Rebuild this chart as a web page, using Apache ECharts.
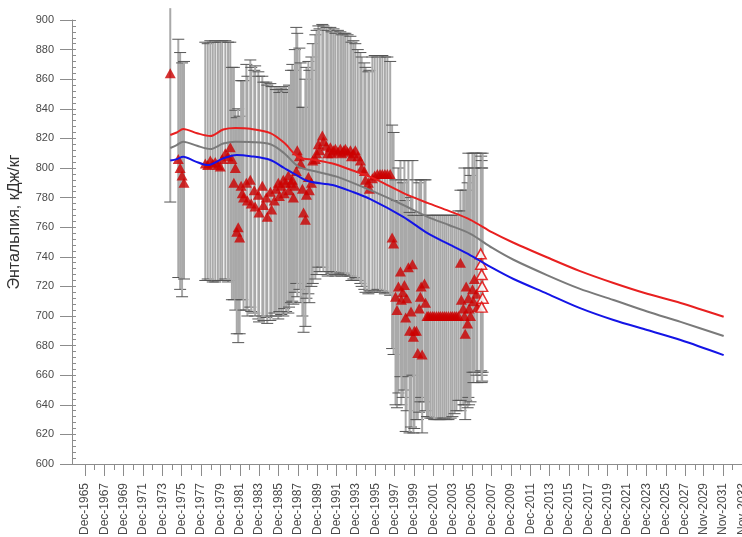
<!DOCTYPE html>
<html><head><meta charset="utf-8">
<script src="https://cdn.jsdelivr.net/npm/echarts@6/dist/echarts.min.js"></script>
<style>html,body{margin:0;padding:0;background:#fff}#c{width:742px;height:537px}</style>
</head><body><div id="c"></div>
<script>
// ---- tick labels ----
const tickLabels = ['Dec-1965','Dec-1967','Dec-1969','Dec-1971','Dec-1973','Dec-1975','Dec-1977','Dec-1979','Dec-1981','Dec-1983','Dec-1985','Dec-1987','Dec-1989','Dec-1991','Dec-1993','Dec-1995','Dec-1997','Dec-1999','Dec-2001','Dec-2003','Dec-2005','Dec-2007','Dec-2009','Dec-2011','Dec-2013','Dec-2015','Dec-2017','Dec-2019','Dec-2021','Dec-2023','Dec-2025','Dec-2027','Nov-2029','Nov-2031','Nov-2033'];

// ---- measured points (filled triangles) ----
const ptYear = [1974.73,
 1975.56,1975.75,1975.95,1976.15,
 1978.35,1978.6,1978.87,1979.12,1979.38,1979.65,1979.9,1980.1,1980.42,1980.7,1980.93,1981.1,1981.3,1981.45,1981.6,1981.75,1981.9,
 1982.05,1982.17,1982.3,1982.59,1982.7,1983.0,1983.1,1983.41,1983.5,1983.83,1983.9,1984.24,1984.35,1984.65,1984.75,1985.07,1985.2,1985.48,1985.65,1985.89,1986.0,1986.2,1986.41,1986.5,1986.7,1986.93,1987.0,1987.2,1987.34,1987.45,1987.6,
 1987.75,1987.85,1988.07,1988.2,1988.38,1988.5,1988.69,1988.8,1989.0,1989.1,1989.31,1989.45,1989.72,1989.85,1990.03,1990.15,1990.44,1990.55,1990.86,1991.0,1991.27,1991.4,1991.6,1991.79,1992.05,1992.3,1992.45,1992.65,1992.82,1993.05,1993.34,1993.45,1993.65,1993.85,1994.1,1994.37,1994.5,1994.78,1994.9,1995.2,1995.3,1995.61,1995.85,1996.13,1996.4,1996.64,1996.9,1997.16,1997.45,1997.65,1997.8,
 1998.0,1998.15,1998.3,1998.51,1998.6,1998.75,1998.92,1999.05,1999.15,1999.33,1999.45,1999.6,1999.75,1999.85,1999.95,2000.16,2000.3,2000.45,2000.57,2000.65,2000.75,2000.99,2001.1,2001.25,2001.4,2001.6,2001.81,2002.0,2002.23,2002.45,2002.64,2002.85,2003.05,2003.25,2003.47,2003.7,2003.88,2004.1,2004.29,2004.5,2004.71,2004.8,2005.0,2005.12,2005.2,2005.3,2005.45,2005.53,2005.6,2005.75,2005.95,2006.05,2006.15,2006.36,2006.45];
const ptValue = [864,
 806,800,795,790,
 803,802,805,803,804,802,801,806,810,808,814,806,790,800,757,760,753,
 788,783,780,790,778,792,776,785,774,782,770,788,775,780,767,784,772,778,786,790,781,788,792,783,790,795,785,790,792,780,788,
 798,812,808,803,786,770,765,782,794,785,790,805,806,810,816,812,822,818,815,810,814,810,812,813,811,813,810,812,813,811,812,808,810,812,808,805,800,798,792,790,786,793,795,796,796,796,796,796,796,753,749,
 713,704,720,730,711,716,721,699,712,733,690,703,735,686,690,690,675,705,713,720,674,722,709,700,700,700,700,700,700,700,700,700,700,700,700,700,700,700,700,700,736,711,705,700,688,720,695,712,705,700,718,710,725,715,706];
const ptHigh = [908,
 887,878,871,872,
 885,884,886,885,886,885,885,886,886,885,885,868,868,839,834,840,835,
 859,859,859,870,862,873,868,866,869,865,862,862,858,858,856,857,855,855,853,853,851,854,852,855,853,851,856,866,870,866,880,
 895,891,881,871,841,841,860,868,872,866,875,884,890,893,896,894,897,896,895,893,895,892,894,891,893,892,890,891,891,890,889,885,886,884,880,878,875,871,868,865,866,875,876,875,876,876,875,875,872,829,824,
 792,778,800,805,792,790,805,778,792,805,770,780,805,768,770,792,768,790,792,792,768,792,792,768,768,768,768,768,768,768,768,768,768,768,768,768,768,768,768,771,785,771,785,800,771,785,790,810,800,795,810,800,810,810,800];
const ptLow = [777,
 726,718,713,725,
 724,725,724,723,723,724,724,724,725,723,724,711,711,704,688,682,688,
 711,711,704,704,700,706,703,702,700,698,696,700,697,699,695,697,700,702,700,698,703,701,700,705,703,702,706,709,710,708,716,
 722,713,718,709,700,689,693,712,715,709,720,722,725,728,733,730,733,730,728,727,730,729,730,727,728,729,727,729,728,727,727,724,725,726,724,722,720,718,716,715,717,716,717,718,716,717,715,716,714,678,674,
 640,638,648,659,640,645,650,622,636,659,621,625,660,621,624,630,630,635,642,645,621,642,636,632,632,631,631,630,630,630,630,631,631,630,630,631,632,634,636,643,636,643,640,640,630,643,638,645,640,642,662,655,662,660,655];

// ---- hollow triangles ----
const hollowYear = [2006.8,2006.85,2006.9,2006.95,2007.0,2006.9];
const hollowValue = [742,735,728,720,712,706];
const hollowHigh = [810,808,805,800,810,800];
const hollowLow = [662,663,660,656,662,655];

// ---- model curves ----
const redYear = [1974.73,1975.4,1976.07,1977.5,1978.87,1980.2,1981.45,1983.0,1985.07,1986.5,1987.96,1989.72,1991.5,1993.5,1995.4,1997.0,1998.82,2001.3,2003.5,2005.74,2008.0,2010.19,2013.7,2017.0,2020.52,2024.0,2027.45,2031.9];
const redValue = [822.3,824,826.4,823.5,821.6,826,827,826.5,823.6,817,807.4,805.4,803,798.5,794,789,783,776.4,771,765,756.5,749.5,739.5,730.5,722.3,715,708.8,699.5];
const greyYear = [1974.73,1975.4,1976.07,1977.5,1978.87,1980.2,1981.45,1983.0,1985.07,1986.5,1987.96,1989.9,1992.0,1995.4,1998.8,2001.3,2003.5,2005.74,2008.0,2010.19,2013.7,2017.0,2020.52,2024.0,2027.45,2031.9];
const greyValue = [813.5,815.5,817.8,815,812.8,816.5,817.8,817.5,816,810,801,797.5,794,785,775,767,761.5,755.5,746,738,727.5,718.5,710.8,703,696,686.5];
const blueYear = [1974.73,1975.4,1976.07,1977.3,1978.6,1980.2,1981.6,1983.0,1985.07,1986.5,1987.4,1989.0,1991.5,1993.5,1995.4,1998.8,2001.3,2003.5,2005.74,2008.0,2010.19,2013.7,2017.0,2020.52,2024.0,2027.45,2031.9];
const blueValue = [805,806,807.6,804.5,802,806.5,808.8,808,805.4,800,796.6,791,788.5,784,779,767,756,748.5,741,732.5,725,715,705.5,697.3,690.5,683.8,673.6];

// ---- build ----
const monthIdx = {Jan:0,Feb:1,Mar:2,Apr:3,May:4,Jun:5,Jul:6,Aug:7,Sep:8,Oct:9,Nov:10,Dec:11};
const tickPos = tickLabels.map(s => { const [m, y] = s.split('-'); return +y + monthIdx[m] / 12; });
const minorPos = tickPos.map(v => v + 1);
const zip = (a, b) => a.map((v, i) => [v, b[i]]);
const bars = ptYear.map((y, i) => [y, ptLow[i], ptHigh[i]]).concat(hollowYear.map((y, i) => [y, hollowLow[i], hollowHigh[i]]));

const YMIN = 600, YMAX = 900;
const axisGrey = '#8c8c8c';
const labelStyle = { fontFamily: 'Liberation Sans, Arial, sans-serif', fontSize: 11, color: '#4a4a4a' };

const chart = echarts.init(document.getElementById('c'), null, { renderer: 'canvas' });
chart.setOption({
  animation: false,
  backgroundColor: '#fff',
  grid: { left: 72, top: 20, width: 672, height: 444, containLabel: false, outerBoundsMode: 'none' },
  xAxis: [{
    type: 'value', min: 1964.58, max: 2034.0,
    axisLine: { show: true, lineStyle: { color: axisGrey, width: 1 } },
    axisTick: { show: true, customValues: tickPos, length: 12, lineStyle: { color: axisGrey } },
    axisLabel: Object.assign({}, labelStyle, { fontSize: 12, customValues: tickPos, rotate: 90, margin: 19,
      formatter: v => { let bi = 0; tickPos.forEach((t, i) => { if (Math.abs(t - v) < Math.abs(tickPos[bi] - v)) bi = i; }); return tickLabels[bi]; } }),
    splitLine: { show: false }
  }, {
    type: 'value', min: 1964.58, max: 2034.0, position: 'bottom',
    axisLine: { show: false },
    axisTick: { show: true, customValues: minorPos, length: 6, lineStyle: { color: axisGrey } },
    axisLabel: { show: false }, splitLine: { show: false }
  }],
  yAxis: [{
    type: 'value', min: YMIN, max: YMAX, interval: 20,
    name: 'Энтальпия, кДж/кг', nameLocation: 'middle', nameGap: 49,
    nameTextStyle: { fontFamily: 'Liberation Sans, Arial, sans-serif', fontSize: 16, color: '#333', padding: [0, 0, 0, 40] },
    axisLine: { show: true, lineStyle: { color: axisGrey } },
    axisTick: { show: true, length: 12, lineStyle: { color: axisGrey } },
    axisLabel: Object.assign({ margin: 18 }, labelStyle),
    splitLine: { show: false }
  }, {
    type: 'value', min: YMIN, max: YMAX, interval: 4, position: 'left',
    axisLine: { show: false },
    axisTick: { show: true, inside: true, length: 4, lineStyle: { color: axisGrey } },
    axisLabel: { show: false }, splitLine: { show: false }
  }],
  series: [{
    type: 'custom', z: 1, clip: false,
    data: bars,
    encode: { x: 0, y: [1, 2] },
    renderItem: (params, api) => {
      const x = api.value(0), lo = api.value(1), hi = api.value(2);
      const pLo = api.coord([x, lo]), pHi = api.coord([x, hi]);
      const children = [{ type: 'line', shape: { x1: pLo[0], y1: pLo[1], x2: pHi[0], y2: pHi[1] }, style: { stroke: '#a9a9a9', lineWidth: 2 } }];
      children.push({ type: 'line', shape: { x1: pLo[0] - 6, y1: pLo[1], x2: pLo[0] + 6, y2: pLo[1] }, style: { stroke: '#555', lineWidth: 1 } });
      if (hi <= YMAX) children.push({ type: 'line', shape: { x1: pHi[0] - 6, y1: pHi[1], x2: pHi[0] + 6, y2: pHi[1] }, style: { stroke: '#555', lineWidth: 1 } });
      return { type: 'group', children };
    }
  }, {
    type: 'scatter', z: 2, symbol: 'triangle', symbolSize: [11, 10],
    itemStyle: { color: '#cc0000' },
    data: zip(ptYear, ptValue)
  }, {
    type: 'scatter', z: 2, symbol: 'triangle', symbolSize: [11, 10],
    itemStyle: { color: '#ffffff', borderColor: '#e00000', borderWidth: 1.5 },
    data: zip(hollowYear, hollowValue)
  }, {
    type: 'line', z: 3, showSymbol: false, smooth: 0.3,
    lineStyle: { color: '#e82020', width: 2 }, data: zip(redYear, redValue)
  }, {
    type: 'line', z: 3, showSymbol: false, smooth: 0.3,
    lineStyle: { color: '#7a7a7a', width: 2 }, data: zip(greyYear, greyValue)
  }, {
    type: 'line', z: 3, showSymbol: false, smooth: 0.3,
    lineStyle: { color: '#1414e6', width: 2 }, data: zip(blueYear, blueValue)
  }]
});
</script>
</body></html>
